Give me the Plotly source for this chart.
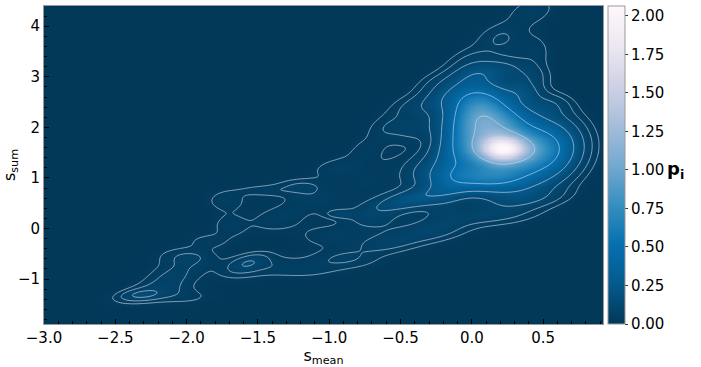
import numpy as np
import plotly.graph_objects as go

# ---- density model: Gaussian components ----
# each list: centre x, centre y, spread x, spread y, tilt, height
comp_x = [0.22, 0.15, 0.50, -0.10, 0.04, 0.15, 0.05, -0.40, -0.35,
          -2.32, -2.30, -2.10, -2.00, -2.00, -1.85,
          -1.72, -1.70,
          -1.57, -1.55, -1.20, -0.90, -0.60, -0.30, 0.05, 0.40,
          -1.35, -1.10, -0.93, -1.00, -0.70, -0.75,
          -1.45, -1.20, -0.95, -0.75, -0.60, -0.42, -0.22, 0.00, 0.20, 0.42, 0.45, 0.40, 0.55, 0.30,
          -0.60, -0.40, -0.20, 0.05, 0.25, 0.35]
comp_y = [1.58, 1.70, 1.55, 1.50, 2.50, 2.10, 1.00, 0.60, 1.20,
          -1.31, -1.30, -0.95, -0.55, -1.35, -0.25,
          0.55, 0.05,
          -0.68, -0.75, -0.80, -0.60, -0.30, -0.05, 0.25, 0.60,
          0.20, 0.60, 0.29, -0.15, 0.20, 0.90,
          0.75, 0.85, 1.20, 1.55, 2.00, 2.40, 2.85, 3.30, 3.80, 4.30, 3.50, 3.00, 2.45, 3.60,
          1.30, 1.95, 2.55, 3.05, 3.20, 2.70]
comp_sx = [0.12, 0.18, 0.16, 0.13, 0.13, 0.18, 0.22, 0.20, 0.12,
           0.09, 0.17, 0.15, 0.15, 0.15, 0.10,
           0.10, 0.09,
           0.09, 0.18, 0.17, 0.17, 0.17, 0.18, 0.25, 0.18,
           0.15, 0.15, 0.07, 0.15, 0.15, 0.15,
           0.14, 0.12, 0.12, 0.10, 0.10, 0.12, 0.12, 0.12, 0.12, 0.12, 0.08, 0.10, 0.10, 0.10,
           0.12, 0.12, 0.12, 0.12, 0.12, 0.10]
comp_sy = [0.18, 0.55, 0.38, 0.60, 0.28, 0.25, 0.17, 0.18, 0.25,
           0.07, 0.15, 0.25, 0.13, 0.12, 0.10,
           0.15, 0.18,
           0.12, 0.20, 0.12, 0.14, 0.15, 0.15, 0.14, 0.14,
           0.20, 0.18, 0.06, 0.15, 0.20, 0.20,
           0.08, 0.10, 0.14, 0.18, 0.18, 0.18, 0.18, 0.20, 0.20, 0.20, 0.25, 0.15, 0.15, 0.15,
           0.20, 0.20, 0.20, 0.15, 0.15, 0.15]
comp_rho = [0.0, -0.15, 0.1, 0.4, 0.0, 0.0, 0.0, 0.6, 0.3,
            0.3, 0.5, 0.5, 0.0, 0.0, 0.0,
            0.0, 0.0,
            0.5, 0.4, 0.0, 0.0, 0.3, 0.3, 0.3, 0.3,
            0.3, 0.0, 0.0, 0.0, 0.0, 0.0,
            0.0, 0.0, 0.3, 0.3, 0.3, 0.3, 0.3, 0.3, 0.3, 0.3, 0.0, 0.0, 0.0, 0.0,
            0.4, 0.4, 0.4, 0.3, 0.0, 0.0]
comp_amp = [1.25, 0.75, 0.60, 0.28, 0.35, 0.30, 0.32, 0.20, 0.08,
            0.08, 0.05, 0.07, 0.05, 0.035, 0.04,
            0.05, 0.045,
            0.08, 0.05, 0.05, 0.06, 0.07, 0.08, 0.07, 0.08,
            0.05, 0.05, 0.07, 0.05, 0.07, 0.04,
            0.045, 0.05, 0.05, 0.04, 0.05, 0.06, 0.06, 0.06, 0.055, 0.05, 0.04, 0.07, 0.08, 0.02,
            0.02, 0.06, 0.10, 0.12, 0.08, 0.12]

contour_levels = [0.03, 0.06, 0.12, 0.25, 0.5, 1.0, 1.5]
x_range = [-3.0, 0.92]
y_range = [-1.89, 4.40]
x_ticks = [-3.0, -2.5, -2.0, -1.5, -1.0, -0.5, 0.0, 0.5]
y_ticks = [-1, 0, 1, 2, 3, 4]
cbar_ticks = [0.0, 0.25, 0.5, 0.75, 1.0, 1.25, 1.5, 1.75, 2.0]
z_max = 2.064

gx = np.linspace(x_range[0], x_range[1], 280)
gy = np.linspace(y_range[0], y_range[1], 280)
X, Y = np.meshgrid(gx, gy)
Z = np.zeros_like(X)
for x0, y0, sx, sy, r, a in zip(comp_x, comp_y, comp_sx, comp_sy, comp_rho, comp_amp):
    u = (X - x0) / sx
    v = (Y - y0) / sy
    q = (u * u - 2 * r * u * v + v * v) / (1 - r * r)
    Z += a * np.exp(-0.5 * q)

pubu_r = [[0.0, '#023858'], [0.125, '#045a8d'], [0.25, '#0570b0'], [0.375, '#3690c0'],
          [0.5, '#74a9cf'], [0.625, '#a6bddb'], [0.75, '#d0d1e6'], [0.875, '#ece7f2'],
          [1.0, '#fff7fb']]

PW = 559.0
fig = go.Figure()
fig.add_trace(go.Heatmap(
    x=gx, y=gy, z=Z, zmin=0, zmax=z_max, zsmooth='best', colorscale=pubu_r,
    colorbar=dict(x=(608 - 44) / PW, xanchor='left', xpad=0, y=0, yanchor='bottom', ypad=0,
                  len=1, lenmode='fraction',
                  thickness=17, outlinecolor='#999', outlinewidth=1,
                  tickvals=cbar_ticks, ticktext=[f'{t:.2f}' for t in cbar_ticks],
                  ticks='outside', ticklen=3, tickcolor='#333',
                  tickfont=dict(family='DejaVu Sans', size=15, color='black')),
    hoverinfo='skip'))

for L in contour_levels:
    fig.add_trace(go.Contour(
        x=gx, y=gy, z=Z, showscale=False,
        contours=dict(start=L, end=L, size=1, coloring='none'),
        line=dict(color='rgba(215,220,235,0.62)', width=1, smoothing=1),
        hoverinfo='skip'))

axis_common = dict(showgrid=True, gridcolor='rgba(150,150,150,0.55)', griddash='dash', gridwidth=0.7,
                   zeroline=False, showline=True, linecolor='#999', mirror=True,
                   ticks='inside', ticklen=5, tickcolor='black',
                   tickfont=dict(family='DejaVu Sans', size=15, color='black'))

fig.update_xaxes(range=x_range, tickvals=x_ticks, ticktext=[f'{t:.1f}'.replace('-', '−') for t in x_ticks],
                 minor=dict(dtick=0.1, ticks='inside', ticklen=3, tickcolor='black', showgrid=False),
                 title=dict(text='s<sub>mean</sub>', font=dict(family='DejaVu Sans', size=16, color='black'), standoff=4),
                 **axis_common)
fig.update_yaxes(range=y_range, tickvals=y_ticks, ticktext=[str(t).replace('-', '−') for t in y_ticks],
                 minor=dict(dtick=0.2, ticks='inside', ticklen=3, tickcolor='black', showgrid=False),
                 title=dict(text='s<sub>sum</sub>', font=dict(family='DejaVu Sans', size=16, color='black'), standoff=2),
                 **axis_common)

fig.add_annotation(x=(665 - 44) / PW, y=(1.0 / z_max), xref='paper', yref='paper', xanchor='left', yanchor='middle',
                   text='<b>p</b><sub><b>i</b></sub>', showarrow=False,
                   font=dict(family='DejaVu Sans', size=18, color='black'))

fig.update_layout(width=701, height=367, margin=dict(l=44, r=98, t=5, b=39),
                  paper_bgcolor='white', plot_bgcolor='#023858', showlegend=False)

fig.write_html('out.html')
